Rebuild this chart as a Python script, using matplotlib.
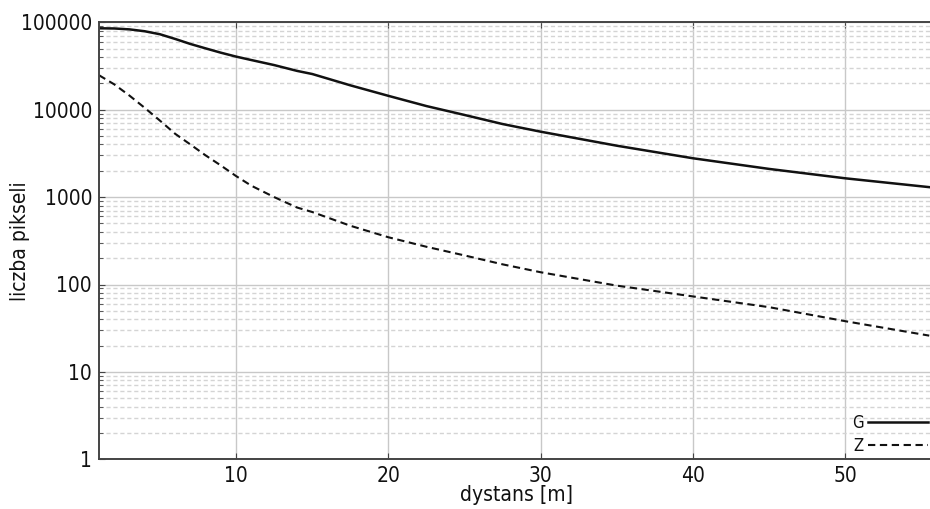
import matplotlib

matplotlib.use("Agg")
import matplotlib.pyplot as plt  # noqa: E402
from matplotlib.ticker import FixedLocator, NullFormatter  # noqa: E402

# distance [m] and pixel counts
DIST = [1, 2, 3, 4, 5, 6, 7, 8, 9, 10, 11, 12.5, 14, 15, 17.5, 20, 22.5,
        25, 27.5, 30, 35, 40, 45, 50, 55.5]
G = [85400, 85000, 83000, 79000, 73000, 64500, 56500, 50300, 44900, 40500,
     37000, 32400, 27800, 25600, 19000, 14400, 11000, 8700, 6850, 5600,
     3870, 2780, 2100, 1640, 1300]
Z = [24800, 19500, 14500, 10500, 7500, 5300, 4000, 3000, 2300, 1740,
     1350, 1000, 760, 675, 470, 347, 270, 215, 170, 138, 97, 73, 55, 38, 26]

Y_TICKS = [1, 10, 100, 1000, 10000, 100000]
X_TICKS = [10, 20, 30, 40, 50]

INK = "#111111"
SPINE = "#444444"
GRID = "#c8c8c8"
MINOR = "#d4d4d4"

plt.rcParams.update({
    "font.family": ["DejaVu Sans"],
    "font.stretch": "condensed",
    "font.size": 15,
    "text.color": INK,
    "axes.labelcolor": INK,
    "xtick.color": INK,
    "ytick.color": INK,
})

fig = plt.figure(figsize=(9.3, 5.09), dpi=100)
ax = fig.add_axes([99 / 930, 49.7 / 509, 1 - 99 / 930, 437 / 509])

ax.plot(DIST, G, color=INK, linewidth=1.8, label="G")
ax.plot(DIST, Z, color=INK, linewidth=1.5, linestyle=(0, (3.5, 2.2)), label="Z")

ax.set_yscale("log")
ax.set_ylim(1, 100000)
ax.set_xlim(1, 55.55)
ax.yaxis.set_major_locator(FixedLocator(Y_TICKS))
ax.set_yticklabels([str(v) for v in Y_TICKS])
minors = [m * 10 ** e for e in range(0, 5) for m in range(2, 10)]
ax.yaxis.set_minor_locator(FixedLocator(minors))
ax.yaxis.set_minor_formatter(NullFormatter())
ax.set_xticks(X_TICKS)

ax.grid(which="major", color=GRID, linewidth=1, linestyle="-")
ax.grid(which="minor", axis="y", color=MINOR, linewidth=1, linestyle=(0, (3, 2)))
ax.set_axisbelow(True)

for side in ("left", "bottom", "top"):
    ax.spines[side].set_color(SPINE)
    ax.spines[side].set_linewidth(1.4)
ax.spines["right"].set_visible(False)
ax.tick_params(which="both", direction="in", top=True, right=False,
               color=SPINE, pad=5)
ax.tick_params(which="major", length=4)
ax.tick_params(which="minor", length=3)

ax.set_xlabel("dystans [m]")
ax.xaxis.set_label_coords(0.502, -0.058)
ax.set_ylabel("liczba pikseli")
ax.yaxis.set_label_coords(-0.083, 0.5)

ax.legend(loc="lower right", bbox_to_anchor=(1.006, -0.006), frameon=False,
          markerfirst=False, fontsize=12, handlelength=3.6, handletextpad=0.3,
          labelspacing=0.3, borderaxespad=0.0)

fig.savefig("out.png", dpi=100)
